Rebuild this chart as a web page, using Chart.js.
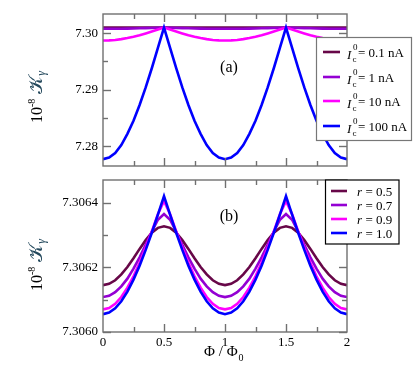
<!DOCTYPE html>
<html>
<head>
<meta charset="utf-8">
<script src="https://cdn.jsdelivr.net/npm/chart.js@4.4.1/dist/chart.umd.min.js"></script>
<style>
  html, body { margin: 0; padding: 0; background: #fff; }
  #wrap { position: relative; width: 415px; height: 371px; }
  canvas { position: absolute; left: 0; top: 0; }
</style>
</head>
<body>
<div id="wrap">
  <canvas id="chartA" width="415" height="371"></canvas>
  <canvas id="chartB" width="415" height="371"></canvas>
</div>
<script>
// Phi / Phi0 values
const phi = [0, 0.05, 0.1, 0.15, 0.2, 0.25, 0.3, 0.35, 0.4, 0.45, 0.5,
  0.55, 0.6, 0.65, 0.7, 0.75, 0.8, 0.85, 0.9, 0.95, 1,
  1.05, 1.1, 1.15, 1.2, 1.25, 1.3, 1.35, 1.4, 1.45, 1.5,
  1.55, 1.6, 1.65, 1.7, 1.75, 1.8, 1.85, 1.9, 1.95, 2];

// panel (a): different I_c^0
const icLabels = ['0.1', '1', '10', '100'];
const ic01 = [7.30101, 7.30101, 7.30101, 7.30101, 7.30101, 7.30101, 7.30101, 7.30101, 7.30101, 7.30101, 7.30101,
  7.30101, 7.30101, 7.30101, 7.30101, 7.30101, 7.30101, 7.30101, 7.30101, 7.30101, 7.30101,
  7.30101, 7.30101, 7.30101, 7.30101, 7.30101, 7.30101, 7.30101, 7.30101, 7.30101, 7.30101,
  7.30101, 7.30101, 7.30101, 7.30101, 7.30101, 7.30101, 7.30101, 7.30101, 7.30101, 7.30101];
const ic1 = [7.30078, 7.30078, 7.30079, 7.30080, 7.30082, 7.30084, 7.30087, 7.30090, 7.30093, 7.30097, 7.30100,
  7.30097, 7.30093, 7.30090, 7.30087, 7.30084, 7.30082, 7.30080, 7.30079, 7.30078, 7.30078,
  7.30078, 7.30079, 7.30080, 7.30082, 7.30084, 7.30087, 7.30090, 7.30093, 7.30097, 7.30100,
  7.30097, 7.30093, 7.30090, 7.30087, 7.30084, 7.30082, 7.30080, 7.30079, 7.30078, 7.30078];
const ic10 = [7.29870, 7.29873, 7.29881, 7.29895, 7.29914, 7.29937, 7.29965, 7.29996, 7.30029, 7.30064, 7.30100,
  7.30064, 7.30029, 7.29996, 7.29965, 7.29937, 7.29914, 7.29895, 7.29881, 7.29873, 7.29870,
  7.29873, 7.29881, 7.29895, 7.29914, 7.29937, 7.29965, 7.29996, 7.30029, 7.30064, 7.30100,
  7.30064, 7.30029, 7.29996, 7.29965, 7.29937, 7.29914, 7.29895, 7.29881, 7.29873, 7.29870];
const ic100 = [7.2777, 7.2780, 7.2788, 7.2802, 7.2822, 7.2845, 7.2873, 7.2904, 7.2938, 7.2974, 7.3010,
  7.2974, 7.2938, 7.2904, 7.2873, 7.2845, 7.2822, 7.2802, 7.2788, 7.2780, 7.2777,
  7.2780, 7.2788, 7.2802, 7.2822, 7.2845, 7.2873, 7.2904, 7.2938, 7.2974, 7.3010,
  7.2974, 7.2938, 7.2904, 7.2873, 7.2845, 7.2822, 7.2802, 7.2788, 7.2780, 7.2777];

// panel (b): different r
const rLabels = ['0.5', '0.7', '0.9', '1.0'];
const r05 = [7.306145, 7.306149, 7.306160, 7.306178, 7.306201, 7.306228, 7.306257, 7.306284, 7.306307, 7.306322, 7.306327,
  7.306322, 7.306307, 7.306284, 7.306257, 7.306228, 7.306201, 7.306178, 7.306160, 7.306149, 7.306145,
  7.306149, 7.306160, 7.306178, 7.306201, 7.306228, 7.306257, 7.306284, 7.306307, 7.306322, 7.306327,
  7.306322, 7.306307, 7.306284, 7.306257, 7.306228, 7.306201, 7.306178, 7.306160, 7.306149, 7.306145];
const r07 = [7.306108, 7.306112, 7.306123, 7.306141, 7.306165, 7.306196, 7.306231, 7.306270, 7.306310, 7.306347, 7.306365,
  7.306347, 7.306310, 7.306270, 7.306231, 7.306196, 7.306165, 7.306141, 7.306123, 7.306112, 7.306108,
  7.306112, 7.306123, 7.306141, 7.306165, 7.306196, 7.306231, 7.306270, 7.306310, 7.306347, 7.306365,
  7.306347, 7.306310, 7.306270, 7.306231, 7.306196, 7.306165, 7.306141, 7.306123, 7.306112, 7.306108];
const r09 = [7.306070, 7.306074, 7.306087, 7.306108, 7.306137, 7.306172, 7.306214, 7.306261, 7.306311, 7.306364, 7.306405,
  7.306364, 7.306311, 7.306261, 7.306214, 7.306172, 7.306137, 7.306108, 7.306087, 7.306074, 7.306070,
  7.306074, 7.306087, 7.306108, 7.306137, 7.306172, 7.306214, 7.306261, 7.306311, 7.306364, 7.306405,
  7.306364, 7.306311, 7.306261, 7.306214, 7.306172, 7.306137, 7.306108, 7.306087, 7.306074, 7.306070];
const r10 = [7.306055, 7.306060, 7.306073, 7.306095, 7.306125, 7.306162, 7.306205, 7.306254, 7.306307, 7.306363, 7.306420,
  7.306363, 7.306307, 7.306254, 7.306205, 7.306162, 7.306125, 7.306095, 7.306073, 7.306060, 7.306055,
  7.306060, 7.306073, 7.306095, 7.306125, 7.306162, 7.306205, 7.306254, 7.306307, 7.306363, 7.306420,
  7.306363, 7.306307, 7.306254, 7.306205, 7.306162, 7.306125, 7.306095, 7.306073, 7.306060, 7.306055];

// tick values
const xTicks = [0, 0.5, 1, 1.5, 2];
const xMinor = [0.25, 0.75, 1.25, 1.75];
const yTicksA = [7.28, 7.29, 7.30];
const yMinorA = [7.285, 7.295];
const yTicksB = [7.3060, 7.3062, 7.3064];
const yMinorB = [7.3061, 7.3063];

const colors = ['rgb(103,7,72)', 'rgb(148,0,211)', 'rgb(255,0,255)', 'rgb(0,0,255)'];
const SERIF = '"Liberation Serif", "Times New Roman", serif';
Chart.defaults.font.family = SERIF;

const pts = arr => arr.map((v, i) => ({ x: phi[i], y: v }));

function makeLine(arr, color) {
  return { data: pts(arr), borderColor: color, borderWidth: 2.6, pointRadius: 0, tension: 0, fill: false };
}

// рамка та тики всередину
const framePlugin = {
  id: 'frame',
  afterDatasetsDraw(chart, args, opts) {
    const { ctx, chartArea: a, scales: { x, y } } = chart;
    ctx.save();
    ctx.strokeStyle = '#707070';
    ctx.lineWidth = 1.4;
    ctx.strokeRect(a.left, a.top, a.right - a.left, a.bottom - a.top);
    const seg = (x1, y1, x2, y2) => { ctx.beginPath(); ctx.moveTo(x1, y1); ctx.lineTo(x2, y2); ctx.stroke(); };
    const xt = (v, len) => {
      const px = Math.round(x.getPixelForValue(v)) + 0.5;
      seg(px, a.bottom, px, a.bottom - len);
      seg(px, a.top, px, a.top + len);
    };
    const yt = (v, len) => {
      const py = Math.round(y.getPixelForValue(v)) + 0.5;
      seg(a.left, py, a.left + len, py);
      seg(a.right, py, a.right - len, py);
    };
    xTicks.slice(1, -1).forEach(v => xt(v, 8));
    xMinor.forEach(v => xt(v, 5));
    opts.yMajor.forEach(v => yt(v, 8));
    opts.yMinor.forEach(v => yt(v, 5));
    ctx.restore();
  },
  afterDraw(chart, args, opts) {
    const ctx = chart.ctx;
    ctx.save();
    ctx.fillStyle = '#000';
    // panel tag
    ctx.font = '16px ' + SERIF;
    ctx.textAlign = 'center';
    ctx.textBaseline = 'middle';
    ctx.fillText(opts.tag, 229, opts.tagY);
    // y title, rotated
    ctx.translate(36, opts.titleY);
    ctx.rotate(-Math.PI / 2);
    ctx.textAlign = 'left';
    ctx.textBaseline = 'alphabetic';
    const f1 = '16px ' + SERIF, f2 = '10px ' + SERIF, f3 = '19px ' + SERIF, f4 = 'italic 12px ' + SERIF;
    ctx.font = f1; const w1 = ctx.measureText('10').width;
    ctx.font = f2; const w2 = ctx.measureText('-8').width;
    ctx.font = f3; const w3 = ctx.measureText('\u{1D4A6}').width;
    ctx.font = f4; const w4 = ctx.measureText('γ').width;
    let cx = -(w1 + w2 + 5 + w3 + w4) / 2;
    ctx.font = f1; ctx.fillText('10', cx, 6); cx += w1;
    ctx.font = f2; ctx.fillText('-8', cx, -1); cx += w2 + 5;
    ctx.fillStyle = '#23485c';
    ctx.font = f3; ctx.fillText('\u{1D4A6}', cx, 6); cx += w3;
    ctx.font = f4; ctx.fillText('γ', cx, 9);
    ctx.restore();
    if (opts.legend) opts.legend(ctx);
    if (opts.xTitle) {
      ctx.save();
      ctx.fillStyle = '#000';
      ctx.textBaseline = 'alphabetic';
      ctx.font = '15px ' + SERIF;
      ctx.fillText('Φ / Φ', 204, 356);
      const w = ctx.measureText('Φ / Φ').width;
      ctx.font = '10px ' + SERIF;
      ctx.fillText('0', 204 + w + 1, 361);
      ctx.restore();
    }
  }
};

function legendA(ctx) {
  ctx.save();
  ctx.fillStyle = '#fff';
  ctx.fillRect(316.5, 37.5, 95, 103);
  ctx.strokeStyle = '#777';
  ctx.lineWidth = 1.2;
  ctx.strokeRect(316.5, 37.5, 95, 103);
  const rows = [52, 77, 101, 126];
  icLabels.forEach((lab, i) => {
    const y = rows[i];
    ctx.strokeStyle = colors[i];
    ctx.lineWidth = 2.6;
    ctx.beginPath(); ctx.moveTo(323, y); ctx.lineTo(340, y); ctx.stroke();
    ctx.fillStyle = '#000';
    ctx.textAlign = 'left';
    ctx.textBaseline = 'alphabetic';
    ctx.font = 'italic 13px ' + SERIF;
    ctx.fillText('I', 347, y + 6.5);
    ctx.font = '9px ' + SERIF;
    ctx.fillText('0', 353, y - 2);
    ctx.fillText('c', 352.5, y + 9.5);
    ctx.font = '13px ' + SERIF;
    ctx.fillText('= ' + lab + ' nA', 358, y + 5);
  });
  ctx.restore();
}

function legendB(ctx) {
  ctx.save();
  ctx.fillStyle = '#fff';
  ctx.fillRect(325.5, 180, 73.5, 64);
  ctx.strokeStyle = '#000';
  ctx.lineWidth = 1.2;
  ctx.strokeRect(325.5, 180, 73.5, 64);
  const rows = [191, 205, 219, 233];
  rLabels.forEach((lab, i) => {
    const y = rows[i];
    ctx.strokeStyle = colors[i];
    ctx.lineWidth = 2.6;
    ctx.beginPath(); ctx.moveTo(331, y); ctx.lineTo(347, y); ctx.stroke();
    ctx.fillStyle = '#000';
    ctx.textAlign = 'left';
    ctx.textBaseline = 'alphabetic';
    ctx.font = 'italic 13px ' + SERIF;
    ctx.fillText('r', 357, y + 4.5);
    ctx.font = '13px ' + SERIF;
    ctx.fillText('= ' + lab, 365.5, y + 4.5);
  });
  ctx.restore();
}

function panelOptions(cfg) {
  return {
    responsive: false,
    animation: false,
    layout: { padding: cfg.padding },
    plugins: {
      legend: { display: false },
      tooltip: { enabled: false },
      frame: cfg.frame
    },
    scales: {
      x: {
        type: 'linear', min: 0, max: 2,
        grid: { display: false, drawTicks: false },
        border: { display: false },
        afterBuildTicks: s => { s.ticks = xTicks.map(v => ({ value: v })); },
        afterFit: s => { s.height = cfg.xHeight; },
        ticks: { display: cfg.xLabels, padding: 3, color: '#000', font: { size: 13 }, maxRotation: 0, callback: v => String(v) }
      },
      y: {
        min: cfg.yMin, max: cfg.yMax,
        grid: { display: false, drawTicks: false },
        border: { display: false },
        afterBuildTicks: s => { s.ticks = cfg.yTicks.map(v => ({ value: v })); },
        afterFit: s => { s.width = 103; },
        ticks: { padding: 5, color: '#000', font: { size: 13 }, callback: v => v.toFixed(cfg.digits) }
      }
    }
  };
}

// datasets in reverse so the blue curve is drawn on top
new Chart(document.getElementById('chartA'), {
  type: 'line',
  data: {
    datasets: [makeLine(ic100, colors[3]), makeLine(ic10, colors[2]), makeLine(ic1, colors[1]), makeLine(ic01, colors[0])]
  },
  options: panelOptions({
    padding: { top: 14, right: 68, bottom: 205, left: 0 },
    xHeight: 0, xLabels: false,
    yMin: 7.2765, yMax: 7.3034, yTicks: yTicksA, digits: 2,
    frame: { yMajor: yTicksA, yMinor: yMinorA, tag: '(a)', tagY: 68, titleY: 97, legend: legendA }
  }),
  plugins: [framePlugin]
});

new Chart(document.getElementById('chartB'), {
  type: 'line',
  data: {
    datasets: [makeLine(r10, colors[3]), makeLine(r09, colors[2]), makeLine(r07, colors[1]), makeLine(r05, colors[0])]
  },
  options: panelOptions({
    padding: { top: 180, right: 68, bottom: 0, left: 0 },
    xHeight: 39, xLabels: true,
    yMin: 7.3060, yMax: 7.30647, yTicks: yTicksB, digits: 4,
    frame: { yMajor: yTicksB, yMinor: yMinorB, tag: '(b)', tagY: 217, titleY: 265, legend: legendB, xTitle: true }
  }),
  plugins: [framePlugin]
});
</script>
</body>
</html>
